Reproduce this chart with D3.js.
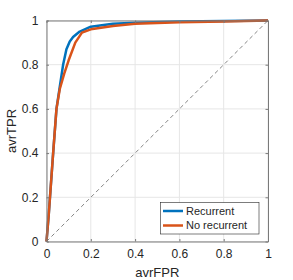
<!DOCTYPE html>
<html>
<head>
<meta charset="utf-8">
<script src="https://cdn.jsdelivr.net/npm/d3@7"></script>
<style>
  body { margin: 0; background: #fff; }
  text { font-family: "Liberation Sans", Arial, sans-serif; fill: #262626; }
</style>
</head>
<body>
<div id="chart"></div>
<script>
/* ROC curves, recurrent vs no recurrent */

const seriesNames = ["Recurrent", "No recurrent"];
const seriesColors = ["#0072BD", "#D95319"];

// false positive rate / true positive rate pairs
const recurrentFPR = [0, 0.01, 0.03, 0.045, 0.06, 0.075, 0.09, 0.105, 0.12, 0.15, 0.2, 0.3, 0.4, 0.6, 0.8, 1];
const recurrentTPR = [0, 0.12, 0.4, 0.6, 0.7, 0.8, 0.87, 0.905, 0.925, 0.95, 0.972, 0.985, 0.99, 0.995, 0.998, 1];
const noRecFPR = [0, 0.01, 0.03, 0.045, 0.06, 0.08, 0.1, 0.13, 0.16, 0.2, 0.3, 0.4, 0.6, 0.8, 1];
const noRecTPR = [0, 0.12, 0.4, 0.6, 0.69, 0.76, 0.82, 0.9, 0.945, 0.96, 0.975, 0.985, 0.992, 0.996, 1];

const ticks = [0, 0.2, 0.4, 0.6, 0.8, 1];

const width = 293, height = 280,
    margin = ({ top: 20.5, right: 25, bottom: 38.5, left: 46.5 });

let svg = d3.select("#chart")
    .append("svg")
    .attr("width", width)
    .attr("height", height);

let x = d3.scaleLinear().domain([0, 1]).range([margin.left, width - margin.right]);
let y = d3.scaleLinear().domain([0, 1]).range([height - margin.bottom, margin.top]);

/* grid */
svg.append("g")
    .selectAll("line")
    .data(ticks)
    .join("line")
    .attr("x1", d => x(d)).attr("x2", d => x(d))
    .attr("y1", y(0)).attr("y2", y(1))
    .attr("stroke", "#e6e6e6");
svg.append("g")
    .selectAll("line")
    .data(ticks)
    .join("line")
    .attr("y1", d => y(d)).attr("y2", d => y(d))
    .attr("x1", x(0)).attr("x2", x(1))
    .attr("stroke", "#e6e6e6");

/* diagonal reference */
svg.append("line")
    .attr("x1", x(0)).attr("y1", y(0))
    .attr("x2", x(1)).attr("y2", y(1))
    .attr("stroke", "#666")
    .attr("stroke-width", 0.8)
    .attr("stroke-dasharray", "4,3");

/* curves */
let line = d3.line().x(d => x(d[0])).y(d => y(d[1]));
let curves = [
    d3.zip(recurrentFPR, recurrentTPR),
    d3.zip(noRecFPR, noRecTPR)
];
svg.append("g")
    .selectAll("path")
    .data(curves)
    .join("path")
    .attr("d", line)
    .attr("fill", "none")
    .attr("stroke", (d, i) => seriesColors[i])
    .attr("stroke-width", 2.5)
    .attr("stroke-linejoin", "round");

/* axes, box with ticks on all sides */
let fmt = d => d === 0 || d === 1 ? d3.format("d")(d) : d3.format(".1f")(d);
let axB = svg.append("g")
    .attr("transform", `translate(0,${y(0)})`)
    .call(d3.axisBottom(x).tickValues(ticks).tickFormat(fmt).tickSizeInner(-2.5).tickSizeOuter(0).tickPadding(8));
let axL = svg.append("g")
    .attr("transform", `translate(${x(0)},0)`)
    .call(d3.axisLeft(y).tickValues(ticks).tickFormat(fmt).tickSizeInner(-2.5).tickSizeOuter(0).tickPadding(8));
let axT = svg.append("g")
    .attr("transform", `translate(0,${y(1)})`)
    .call(d3.axisTop(x).tickValues(ticks).tickFormat("").tickSizeInner(-2.5).tickSizeOuter(0));
let axR = svg.append("g")
    .attr("transform", `translate(${x(1)},0)`)
    .call(d3.axisRight(y).tickValues(ticks).tickFormat("").tickSizeInner(-2.5).tickSizeOuter(0));

[axB, axL, axT, axR].forEach(a => {
    a.select(".domain").attr("stroke", "#7a7a7a");
    a.selectAll(".tick line").attr("stroke", "#7a7a7a");
    a.selectAll(".tick text").style("font-size", "12px").attr("fill", "#262626")
        .style("font-family", "'Liberation Sans', Arial, sans-serif");
});

/* axis labels */
svg.append("text")
    .attr("x", (x(0) + x(1)) / 2)
    .attr("y", 276.5)
    .attr("text-anchor", "middle")
    .style("font-size", "13px")
    .text("avrFPR");
svg.append("text")
    .attr("transform", `translate(16,${(y(0) + y(1)) / 2}) rotate(-90)`)
    .attr("text-anchor", "middle")
    .style("font-size", "13px")
    .text("avrTPR");

/* legend */
let legend = svg.append("g").attr("transform", "translate(160.5,202.5)");
legend.append("rect")
    .attr("width", 98.5).attr("height", 31.5)
    .attr("fill", "#fff")
    .attr("stroke", "#262626")
    .attr("stroke-width", 0.6);
let item = legend.selectAll("g")
    .data(seriesNames)
    .join("g")
    .attr("transform", (d, i) => `translate(0,${8.5 + i * 14.5})`);
item.append("line")
    .attr("x1", 2.5).attr("x2", 22.5)
    .attr("stroke", (d, i) => seriesColors[i])
    .attr("stroke-width", 2.5);
item.append("text")
    .attr("x", 25.5)
    .attr("dy", "0.35em")
    .style("font-size", "11px")
    .text(d => d);
</script>
</body>
</html>
